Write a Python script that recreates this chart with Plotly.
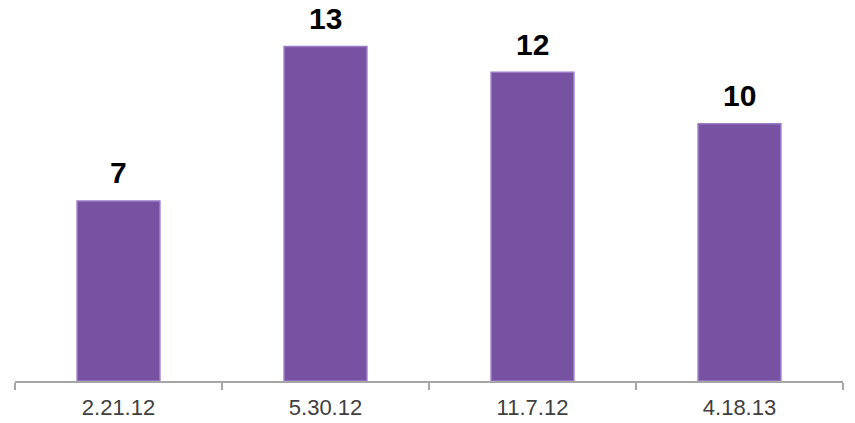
import plotly.graph_objects as go

categories = ["2.21.12", "5.30.12", "11.7.12", "4.18.13"]
values = [7, 13, 12, 10]

fig = go.Figure()
fig.add_trace(go.Bar(
    x=categories, y=values,
    marker=dict(color="#7752A2", line=dict(color="#9A7BC6", width=1.5)),
    width=0.4,
    hoverinfo="x+y",
))

for c, v in zip(categories, values):
    fig.add_annotation(x=c, y=v, text=str(v), showarrow=False,
                       yanchor="middle", yshift=28,
                       font=dict(family="Liberation Sans", size=30,
                                 color="#000000", weight="bold"))

fig.update_layout(
    width=855, height=423,
    margin=dict(l=15, r=12, t=8, b=42),
    plot_bgcolor="white", paper_bgcolor="white",
    showlegend=False,
    font=dict(family="Liberation Sans"),
    xaxis=dict(
        showline=True, linecolor="#A6A6A6", linewidth=1.5,
        ticks="outside", ticklen=7, tickcolor="#A6A6A6", tickwidth=1.5,
        tickson="boundaries",
        ticklabelstandoff=6,
        automargin=False,
        tickfont=dict(size=22, color="#404040"),
        showgrid=False,
    ),
    yaxis=dict(range=[0, 14.5], visible=False, showgrid=False, automargin=False),
)

fig.write_html("out.html")
